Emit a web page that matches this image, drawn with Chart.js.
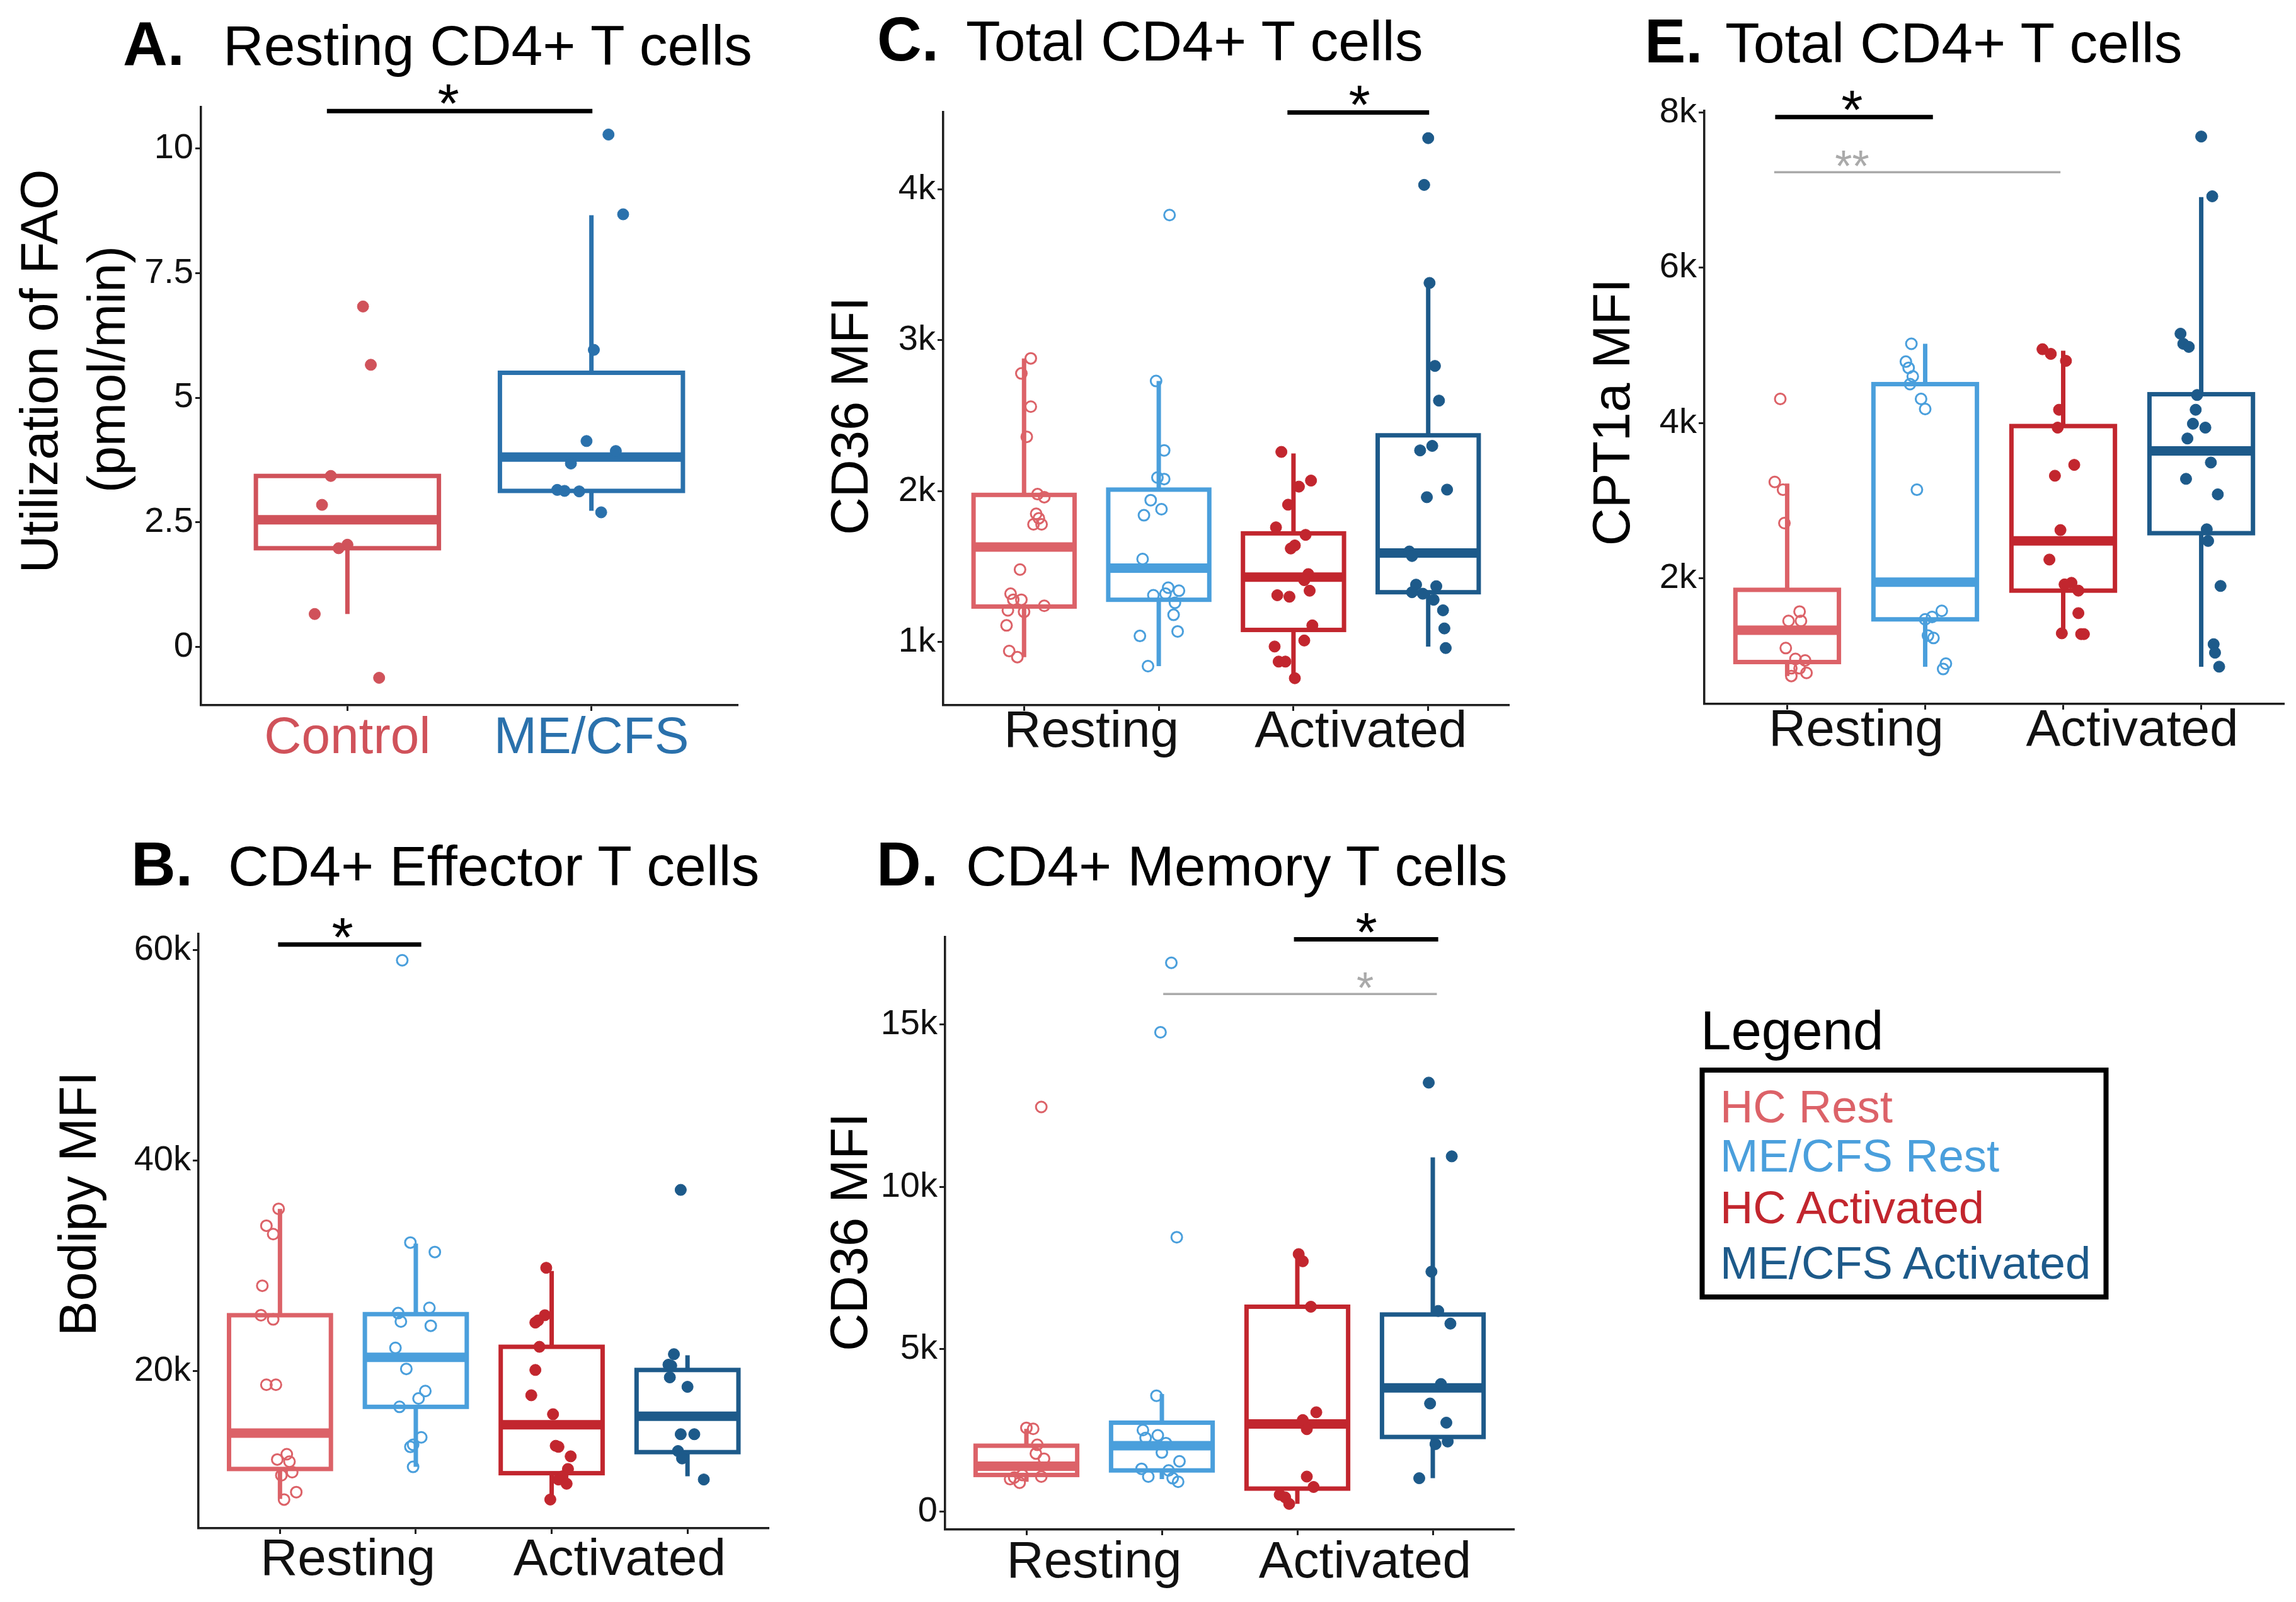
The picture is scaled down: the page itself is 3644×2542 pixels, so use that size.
<!DOCTYPE html>
<html>
<head>
<meta charset="utf-8">
<title>CD4+ T cell fatty acid uptake and oxidation</title>
<script src="https://cdn.jsdelivr.net/npm/chart.js@4.4.1/dist/chart.umd.min.js"></script>
<style>
  html, body { margin: 0; padding: 0; background: #fff; }
  #page { position: relative; width: 3644px; height: 2542px; overflow: hidden; background: #fff; }
  canvas { position: absolute; }
  #labels { position: absolute; left: 0; top: 0; font-family: "Liberation Sans", Arial, sans-serif; }
</style>
</head>
<body>
<div id="page">
  <canvas id="chartA"></canvas>
  <canvas id="chartB"></canvas>
  <canvas id="chartC"></canvas>
  <canvas id="chartD"></canvas>
  <canvas id="chartE"></canvas>
  <svg id="labels" width="3644" height="2542" xmlns="http://www.w3.org/2000/svg">
    <!-- panel titles -->
    <g fill="#000">
      <text x="195" y="103" font-size="98" font-weight="bold">A.</text>
      <text x="354" y="103" font-size="89.5">Resting CD4+ T cells</text>
      <text x="1392" y="96" font-size="98" font-weight="bold">C.</text>
      <text x="1533" y="96" font-size="89.5">Total CD4+ T cells</text>
      <text x="2610" y="99" font-size="98" font-weight="bold">E.</text>
      <text x="2738" y="99" font-size="89.5">Total CD4+ T cells</text>
      <text x="208" y="1405" font-size="98" font-weight="bold">B.</text>
      <text x="362" y="1405" font-size="89.5">CD4+ Effector T cells</text>
      <text x="1391" y="1405" font-size="98" font-weight="bold">D.</text>
      <text x="1533" y="1405" font-size="89.5">CD4+ Memory T cells</text>
    </g>
    <!-- y axis titles -->
    <g fill="#000" font-size="83" text-anchor="middle">
      <text transform="translate(91,589) rotate(-90)">Utilization of FAO</text>
      <text transform="translate(198,586) rotate(-90)">(pmol/min)</text>
      <text transform="translate(1377,660) rotate(-90)">CD36 MFI</text>
      <text transform="translate(2586,654) rotate(-90)">CPT1a MFI</text>
      <text transform="translate(152,1910) rotate(-90)">Bodipy MFI</text>
      <text transform="translate(1376,1955) rotate(-90)">CD36 MFI</text>
    </g>
    <!-- legend -->
    <text x="2699" y="1665" font-size="87" fill="#000">Legend</text>
    <rect x="2701.5" y="1698" width="641" height="360" fill="none" stroke="#000" stroke-width="8"/>
    <g font-size="72.5">
      <text x="2730" y="1781" fill="#dc6268">HC Rest</text>
      <text x="2730" y="1859" fill="#4a9fdc">ME/CFS Rest</text>
      <text x="2730" y="1941" fill="#c2262e">HC Activated</text>
      <text x="2730" y="2029" fill="#1d5a8a">ME/CFS Activated</text>
    </g>
  </svg>
</div>
<script>
document.addEventListener('DOMContentLoaded', () => {
    const fontFamily = '"Liberation Sans", Arial, sans-serif';
    const axisColor = '#1e1e1e';
    const boxWidth = 0.75;

    // Shared group info (panels B-E)
    const groupNames = ['HC Rest', 'ME/CFS Rest', 'HC Activated', 'ME/CFS Activated'];
    const groupColors = ['#dc6268', '#4a9fdc', '#c2262e', '#1d5a8a'];
    const groupOpen = [true, true, false, false];
    const stateTicks = [1, 1.5, 2, 3, 3.5, 4];
    const stateLabels = ['', 'Resting', '', '', 'Activated', ''];

    // Panel A - Resting CD4+ T cells, FAO (pmol/min)
    const aCategories = ['Control', 'ME/CFS'];
    const aColors = ['#d0525a', '#2a71ac'];
    const aControlValues = [6.83, 5.66, 3.43, 2.85, 2.05, 1.98, 0.66, -0.62];
    const aControlJitter = [0.064, 0.096, -0.068, -0.104, 0.0, -0.036, -0.134, 0.13];
    const aMecfsValues = [10.28, 8.68, 5.96, 4.13, 3.93, 3.68, 3.15, 3.13, 3.12, 2.70];
    const aMecfsJitter = [0.07, 0.13, 0.01, -0.02, 0.10, -0.084, -0.14, -0.11, -0.05, 0.04];
    // [lower whisker, q1, median, q3, upper whisker]
    const aBoxStats = [[0.66, 1.98, 2.55, 3.43, 3.43], [2.73, 3.13, 3.81, 5.5, 8.66]];
    const aYTicks = [0, 2.5, 5, 7.5, 10];
    const aYLabels = ['0', '2.5', '5', '7.5', '10'];
    const aSig = [{ from: 0.916, to: 2.004, y: 10.75, text: '*', at: 1.414, major: true }];

    // Panel B - CD4+ Effector T cells, Bodipy MFI
    const bValues = [
        [35400, 33800, 33000, 28100, 25300, 24900, 18700, 18700, 12100, 11600, 11400, 10400, 10100, 8500, 7800],
        [59000, 32200, 31300, 26000, 25500, 24700, 24300, 22200, 20200, 18100, 17400, 16600, 13700, 13000, 12800, 10900],
        [29800, 25300, 24600, 24800, 22300, 20100, 17700, 15900, 12900, 12800, 11900, 10700, 10000, 9700, 9300, 7800],
        [37200, 21600, 20600, 20500, 19400, 18500, 14000, 14000, 12400, 11700, 9700]
    ];
    const bJitter = [
        [-0.01, -0.10, -0.05, -0.13, -0.14, -0.05, -0.10, -0.03, 0.05, -0.02, 0.07, 0.09, 0.01, 0.12, 0.03],
        [-0.10, -0.04, 0.14, 0.10, -0.13, -0.11, 0.11, -0.15, -0.07, 0.07, 0.02, -0.12, 0.04, -0.02, -0.04, -0.02],
        [-0.04, -0.05, -0.12, -0.10, -0.09, -0.12, -0.15, 0.01, 0.03, 0.05, 0.14, 0.12, 0.08, 0.05, 0.11, -0.01],
        [-0.05, -0.10, -0.14, -0.12, -0.13, 0.0, -0.05, 0.05, -0.07, -0.04, 0.12]
    ];
    const bBoxStats = [
        [7860, 10700, 14100, 25300, 35400],
        [10900, 16600, 21300, 25400, 32100],
        [7600, 10300, 14900, 22300, 29500],
        [10000, 12300, 15700, 20100, 21500]
    ];
    const bYTicks = [20000, 40000, 60000];
    const bYLabels = ['20k', '40k', '60k'];
    const bSig = [{ from: 0.986, to: 2.04, y: 60500, text: '*', at: 1.46, major: true }];

    // Panel C - Total CD4+ T cells, CD36 MFI
    const cValues = [
        [2880, 2780, 2560, 2360, 1980, 1960, 1850, 1820, 1780, 1780, 1480, 1320, 1280, 1280, 1240, 1210, 1200, 1110, 940, 900],
        [3830, 2730, 2270, 2090, 2080, 1940, 1880, 1840, 1550, 1360, 1340, 1320, 1310, 1260, 1180, 1070, 1040, 840],
        [2260, 2070, 2030, 1910, 1760, 1710, 1640, 1620, 1450, 1410, 1310, 1300, 1340, 1110, 1010, 970, 870, 870, 760],
        [4340, 4030, 3380, 2830, 2600, 2270, 2300, 2010, 1960, 1600, 1570, 1380, 1370, 1330, 1320, 1280, 1210, 1090, 960]
    ];
    const cJitter = [
        [0.05, -0.02, 0.05, 0.02, 0.10, 0.15, 0.09, 0.11, 0.07, 0.13, -0.03, -0.10, -0.08, -0.02, 0.15, -0.12, 0.0, -0.13, -0.11, -0.05],
        [0.08, -0.02, 0.04, -0.01, 0.04, -0.06, 0.02, -0.11, -0.12, 0.07, 0.15, 0.05, -0.04, 0.12, 0.11, 0.14, -0.14, -0.08],
        [-0.09, 0.13, 0.04, -0.04, -0.13, 0.09, 0.01, -0.02, 0.11, 0.08, -0.12, -0.03, 0.12, 0.14, 0.08, -0.14, -0.11, -0.06, 0.01],
        [0.0, -0.03, 0.01, 0.05, 0.08, -0.06, 0.03, 0.14, -0.01, -0.14, -0.12, -0.09, 0.06, -0.12, -0.04, 0.04, 0.11, 0.12, 0.13]
    ];
    const cBoxStats = [
        [900, 1235, 1630, 1975, 2880],
        [840, 1280, 1490, 2010, 2730],
        [760, 1080, 1430, 1720, 2250],
        [970, 1330, 1590, 2370, 3370]
    ];
    const cYTicks = [1000, 2000, 3000, 4000];
    const cYLabels = ['1k', '2k', '3k', '4k'];
    const cSig = [{ from: 2.955, to: 4.007, y: 4510, text: '*', at: 3.49, major: true }];

    // Panel D - CD4+ Memory T cells, CD36 MFI
    const dValues = [
        [12460, 2580, 2550, 2060, 1790, 1630, 1080, 1000, 890, 1130, 1050],
        [16900, 14760, 8450, 3570, 2510, 2270, 2350, 2110, 1820, 1550, 1320, 1270, 1080, 1030, 920],
        [7930, 7710, 6310, 3060, 2820, 2540, 1080, 760, 520, 440, 240],
        [13210, 10940, 7390, 6180, 5790, 3930, 3330, 2740, 2160, 2080, 1030]
    ];
    const dJitter = [
        [0.11, 0.0, 0.05, 0.08, 0.07, 0.13, 0.11, -0.12, -0.05, -0.03, -0.09],
        [0.07, -0.01, 0.11, -0.04, -0.14, -0.12, -0.03, 0.03, 0.0, 0.13, -0.15, 0.05, -0.10, 0.08, 0.12],
        [0.01, 0.04, 0.10, 0.14, 0.04, 0.07, 0.07, 0.12, -0.13, -0.09, -0.06],
        [-0.03, 0.14, -0.01, 0.04, 0.13, 0.06, -0.02, 0.10, 0.11, 0.02, -0.10]
    ];
    const dBoxStats = [
        [920, 1130, 1400, 2030, 2550],
        [1000, 1270, 2030, 2740, 3620],
        [240, 710, 2700, 6310, 7980],
        [1030, 2300, 3810, 6070, 10910]
    ];
    const dYTicks = [0, 5000, 10000, 15000];
    const dYLabels = ['0', '5k', '10k', '15k'];
    const dSig = [
        { from: 2.975, to: 4.04, y: 17620, text: '*', at: 3.51, major: true },
        { from: 2.01, to: 4.03, y: 15940, text: '*', at: 3.50, major: false }
    ];

    // Panel E - Total CD4+ T cells, CPT1a MFI
    const eValues = [
        [4310, 3240, 3140, 2710, 1570, 1450, 1450, 1100, 960, 940, 840, 840, 780, 740],
        [5020, 4790, 4710, 4600, 4500, 4310, 4180, 3140, 1580, 1500, 1470, 1260, 1230, 900, 830],
        [4950, 4890, 4800, 4170, 3940, 3460, 3320, 2620, 2240, 1940, 1920, 1840, 1550, 1290, 1280, 1280],
        [7690, 6920, 5150, 5020, 4980, 4360, 4170, 3990, 3940, 3800, 3490, 3280, 3080, 2630, 2480, 1900, 1150, 1040, 860]
    ];
    const eJitter = [
        [-0.05, -0.09, -0.03, -0.02, 0.09, 0.01, 0.10, -0.01, 0.06, 0.13, 0.03, 0.09, 0.14, 0.03],
        [-0.10, -0.14, -0.12, -0.09, -0.11, -0.03, 0.0, -0.06, 0.12, 0.05, 0.0, 0.02, 0.06, 0.15, 0.13],
        [-0.15, -0.09, 0.02, -0.03, -0.04, 0.08, -0.06, -0.02, -0.10, 0.06, 0.01, 0.11, 0.11, -0.01, 0.13, 0.15],
        [0.0, 0.08, -0.15, -0.13, -0.09, -0.03, -0.04, -0.06, 0.03, -0.10, 0.07, -0.11, 0.12, 0.04, 0.05, 0.14, 0.09, 0.10, 0.13]
    ];
    const eBoxStats = [
        [740, 920, 1330, 1850, 3220],
        [860, 1470, 1950, 4500, 5020],
        [1290, 1840, 2480, 3960, 4930],
        [860, 2580, 3640, 4370, 6910]
    ];
    const eYTicks = [2000, 4000, 6000, 8000];
    const eYLabels = ['2k', '4k', '6k', '8k'];
    const eSig = [
        { from: 0.913, to: 2.056, y: 7940, text: '*', at: 1.47, major: true },
        { from: 0.906, to: 2.98, y: 7230, text: '**', at: 1.47, major: false }
    ];

    // Function to build one boxplot panel on its own canvas
    const makePanel = (canvasId, p) => {
        const canvas = document.getElementById(canvasId);
        const [fx, fy, fw, fh] = p.frame;
        const [al, at, ar, ab] = p.area;
        canvas.width = fw;
        canvas.height = fh;
        canvas.style.left = fx + 'px';
        canvas.style.top = fy + 'px';

        const datasets = p.values.map((vals, g) => ({
            label: p.names[g],
            data: vals.map((v, i) => ({ x: g + 1 + p.jitter[g][i], y: v })),
            pointStyle: 'circle',
            pointRadius: p.open[g] ? 8.5 : 9,
            pointHoverRadius: p.open[g] ? 8.5 : 9,
            pointBorderWidth: p.open[g] ? 3 : 1,
            pointBorderColor: p.colors[g],
            pointBackgroundColor: p.open[g] ? 'rgba(255,255,255,0)' : p.colors[g]
        }));

        // boxes, whiskers and medians go under the points
        const boxPlugin = {
            id: 'boxes',
            beforeDatasetsDraw(chart) {
                const { ctx, scales: { x, y } } = chart;
                ctx.save();
                ctx.lineCap = 'butt';
                p.boxes.forEach((b, g) => {
                    const [lo, q1, med, q3, hi] = b.map(v => y.getPixelForValue(v));
                    const xl = x.getPixelForValue(g + 1 - boxWidth / 2);
                    const xr = x.getPixelForValue(g + 1 + boxWidth / 2);
                    const xc = x.getPixelForValue(g + 1);
                    ctx.strokeStyle = p.colors[g];
                    ctx.lineWidth = 7;
                    ctx.beginPath();
                    ctx.moveTo(xc, hi); ctx.lineTo(xc, q3);
                    ctx.moveTo(xc, q1); ctx.lineTo(xc, lo);
                    ctx.stroke();
                    ctx.strokeRect(xl, q3, xr - xl, q1 - q3);
                    ctx.lineWidth = 15;
                    ctx.beginPath();
                    ctx.moveTo(xl, med); ctx.lineTo(xr, med);
                    ctx.stroke();
                });
                ctx.restore();
            }
        };

        // significance brackets and stars
        const sigPlugin = {
            id: 'significance',
            afterDatasetsDraw(chart) {
                const { ctx, scales: { x, y } } = chart;
                ctx.save();
                p.sig.forEach(s => {
                    const py = y.getPixelForValue(s.y);
                    ctx.strokeStyle = s.major ? '#000' : '#aaaaaa';
                    ctx.fillStyle = s.major ? '#000' : '#aaaaaa';
                    ctx.lineWidth = s.major ? 7 : 3.5;
                    ctx.beginPath();
                    ctx.moveTo(x.getPixelForValue(s.from), py);
                    ctx.lineTo(x.getPixelForValue(s.to), py);
                    ctx.stroke();
                    ctx.font = (s.major ? 88 : 70) + 'px ' + fontFamily;
                    ctx.textAlign = 'center';
                    ctx.textBaseline = 'alphabetic';
                    ctx.fillText(s.text, x.getPixelForValue(s.at), py + (s.major ? 18 : 15));
                });
                ctx.restore();
            }
        };

        new Chart(canvas.getContext('2d'), {
            type: 'scatter',
            data: { datasets },
            plugins: [boxPlugin, sigPlugin],
            options: {
                responsive: false,
                animation: false,
                devicePixelRatio: 1,
                events: [],
                layout: { padding: { left: 0, top: at - fy, right: fx + fw - ar, bottom: 0 } },
                plugins: { legend: { display: false }, tooltip: { enabled: false } },
                scales: {
                    x: {
                        type: 'linear',
                        min: p.xMin,
                        max: p.xMax,
                        bounds: 'data',
                        afterBuildTicks: s => { s.ticks = p.xTicks.map(v => ({ value: v })); },
                        afterFit: s => { s.height = fy + fh - ab; },
                        border: { display: true, color: axisColor, width: 3.5 },
                        grid: {
                            drawOnChartArea: false,
                            drawTicks: true,
                            tickLength: 9,
                            tickWidth: 3,
                            tickColor: c => (c.tick && Number.isInteger(c.tick.value)) ? axisColor : 'rgba(0,0,0,0)'
                        },
                        ticks: {
                            autoSkip: false,
                            maxRotation: 0,
                            minRotation: 0,
                            padding: p.xPad,
                            font: { family: fontFamily, size: 82, lineHeight: 0.8 },
                            color: c => p.xColors ? p.xColors[c.index] : '#111',
                            callback: (v, i) => p.xLabels[i]
                        }
                    },
                    y: {
                        type: 'linear',
                        min: p.yMin,
                        max: p.yMax,
                        bounds: 'data',
                        afterBuildTicks: s => { s.ticks = p.yTicks.map(v => ({ value: v })); },
                        afterFit: s => { s.width = al - fx; },
                        border: { display: true, color: axisColor, width: 3.5 },
                        grid: { drawOnChartArea: false, drawTicks: true, tickLength: 9, tickWidth: 3, tickColor: axisColor },
                        ticks: {
                            autoSkip: false,
                            padding: 3,
                            font: { family: fontFamily, size: 56 },
                            color: '#111',
                            callback: (v, i) => p.yLabels[i]
                        }
                    }
                }
            }
        });
    };

    makePanel('chartA', {
        frame: [0, 0, 1210, 1260], area: [319, 170, 1171, 1119],
        names: aCategories, colors: aColors, open: [false, false],
        values: [aControlValues, aMecfsValues], jitter: [aControlJitter, aMecfsJitter],
        boxes: aBoxStats, sig: aSig,
        xMin: 0.4, xMax: 2.6, xTicks: [1, 2], xLabels: aCategories, xColors: aColors, xPad: 12,
        yMin: -1.17, yMax: 10.83, yTicks: aYTicks, yLabels: aYLabels
    });

    makePanel('chartB', {
        frame: [0, 1270, 1232, 1272], area: [315, 1482, 1222, 2425],
        names: groupNames, colors: groupColors, open: groupOpen,
        values: bValues, jitter: bJitter, boxes: bBoxStats, sig: bSig,
        xMin: 0.4, xMax: 4.6, xTicks: stateTicks, xLabels: stateLabels, xPad: 10,
        yMin: 5070, yMax: 61500, yTicks: bYTicks, yLabels: bYLabels
    });

    makePanel('chartC', {
        frame: [1230, 0, 1200, 1260], area: [1497, 178, 2395, 1119],
        names: groupNames, colors: groupColors, open: groupOpen,
        values: cValues, jitter: cJitter, boxes: cBoxStats, sig: cSig,
        xMin: 0.4, xMax: 4.6, xTicks: stateTicks, xLabels: stateLabels, xPad: 2,
        yMin: 581, yMax: 4512, yTicks: cYTicks, yLabels: cYLabels
    });

    makePanel('chartD', {
        frame: [1240, 1270, 1200, 1272], area: [1500, 1487, 2403, 2427],
        names: groupNames, colors: groupColors, open: groupOpen,
        values: dValues, jitter: dJitter, boxes: dBoxStats, sig: dSig,
        xMin: 0.4, xMax: 4.6, xTicks: stateTicks, xLabels: stateLabels, xPad: 12,
        yMin: -550, yMax: 17690, yTicks: dYTicks, yLabels: dYLabels
    });

    makePanel('chartE', {
        frame: [2440, 0, 1204, 1260], area: [2705, 176, 3625, 1117],
        names: groupNames, colors: groupColors, open: groupOpen,
        values: eValues, jitter: eJitter, boxes: eBoxStats, sig: eSig,
        xMin: 0.4, xMax: 4.6, xTicks: stateTicks, xLabels: stateLabels, xPad: 2,
        yMin: 380, yMax: 8020, yTicks: eYTicks, yLabels: eYLabels
    });
});
</script>
</body>
</html>
